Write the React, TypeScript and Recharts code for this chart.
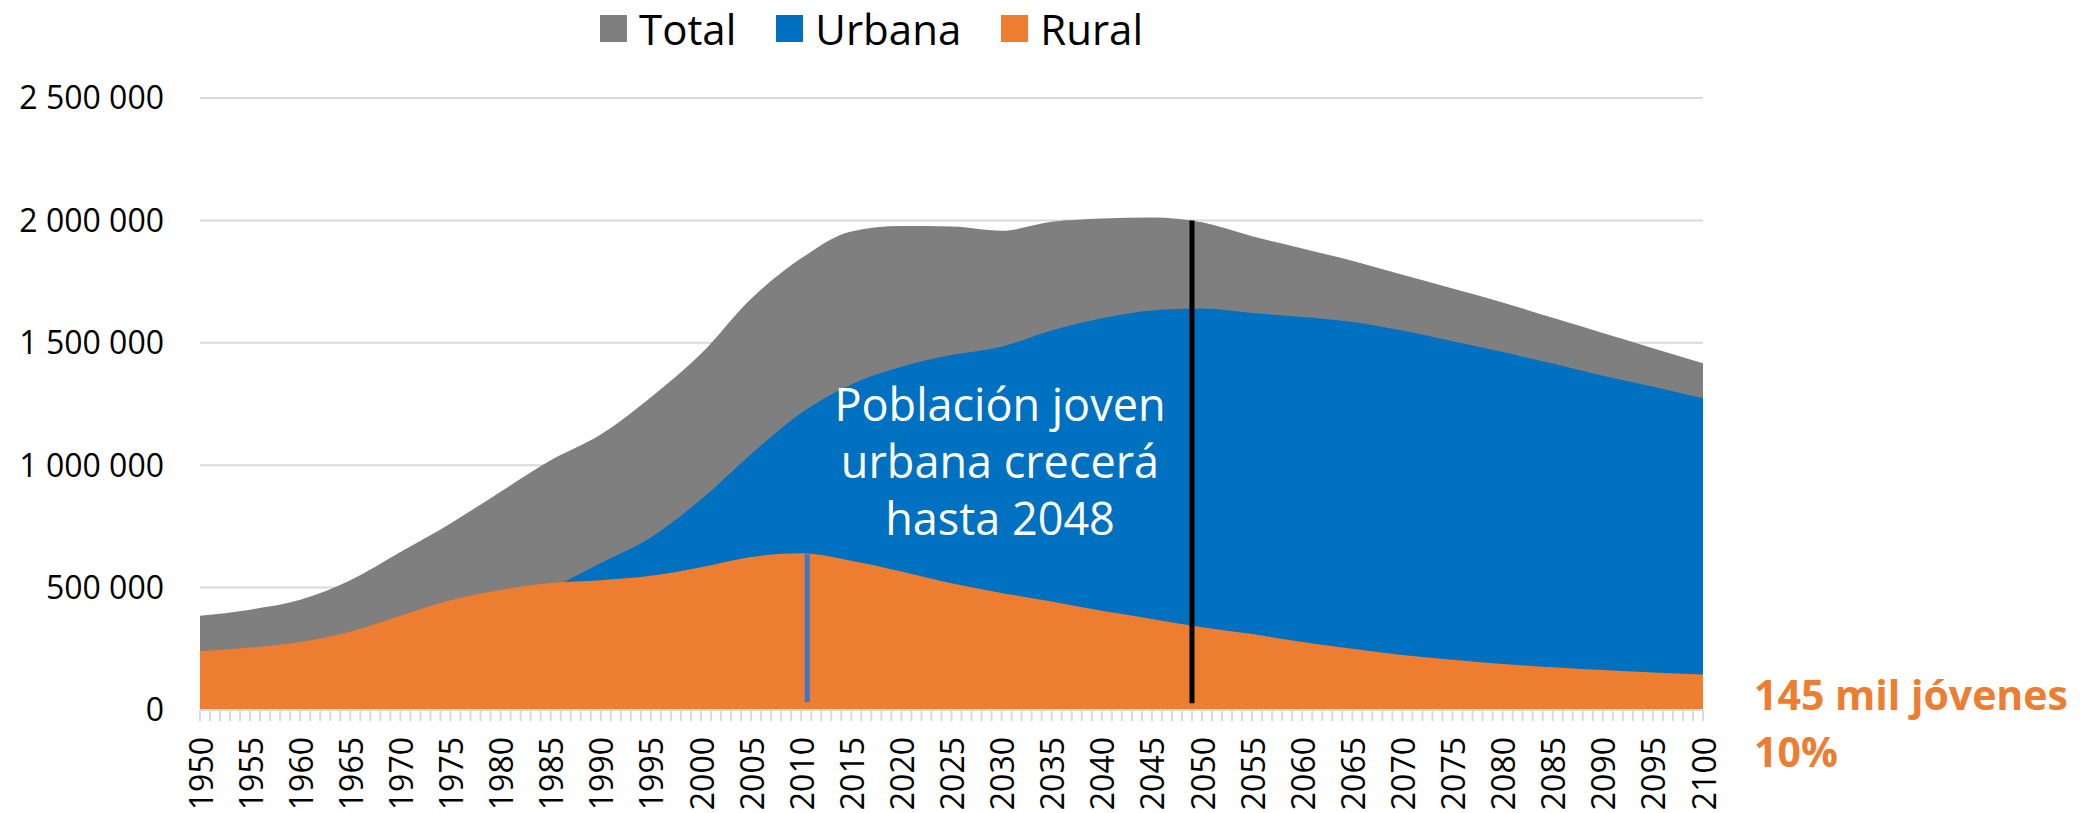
import { AreaChart, Area, XAxis, YAxis, CartesianGrid, Legend, ReferenceLine } from 'recharts';

const YEARS = [
  1950, 1955, 1960, 1965, 1970, 1975, 1980, 1985, 1990, 1995, 2000,
  2005, 2010, 2015, 2020, 2025, 2030, 2035, 2040, 2045, 2050,
  2055, 2060, 2065, 2070, 2075, 2080, 2085, 2090, 2095, 2100,
];

// youth population
const TOTAL = [
  385000, 410000, 450000, 530000, 645000, 762000, 892000, 1020000, 1125000, 1278000, 1455000,
  1680000, 1845000, 1955000, 1977000, 1975000, 1958000, 1994000, 2008000, 2012000, 1992000,
  1935000, 1885000, 1835000, 1778000, 1722000, 1665000, 1602000, 1540000, 1478000, 1416000,
];
const URBANA = [
  145000, 155000, 172000, 210000, 260000, 314000, 402000, 495000, 600000, 705000, 860000,
  1045000, 1213000, 1330000, 1402000, 1450000, 1484000, 1550000, 1600000, 1632000, 1640000,
  1622000, 1605000, 1585000, 1550000, 1506000, 1462000, 1415000, 1365000, 1320000, 1273000,
];
const RURAL = [
  240000, 255000, 278000, 320000, 385000, 448000, 490000, 519000, 530000, 548000, 583000,
  625000, 640000, 610000, 566000, 518000, 478000, 443000, 405000, 372000, 338000,
  310000, 278000, 250000, 225000, 205000, 188000, 175000, 163000, 153000, 145000,
];

const Y_TICKS = [0, 500000, 1000000, 1500000, 2000000, 2500000];

const SERIES = [
  { key: 'total', name: 'Total', color: '#7F7F7F' },
  { key: 'urbana', name: 'Urbana', color: '#0070C0' },
  { key: 'rural', name: 'Rural', color: '#ED7D31' },
];

const RURAL_PEAK_YEAR = 2010.6;
const URBAN_PEAK_YEAR = 2049;

const FONT = '"Open Sans", sans-serif';

const data = YEARS.map((year, i) => ({
  year,
  total: TOTAL[i],
  urbana: URBANA[i],
  rural: RURAL[i],
}));

// one small tick per year, labels every 5 years
const yearTicks = Array.from({ length: 2100 - 1950 + 1 }, (_, i) => 1950 + i);

const fmt = (n: number) => String(n).replace(/\B(?=(\d{3})+(?!\d))/g, ' ');

function YearTick({ x, y, payload }: any) {
  if (payload.value % 5 !== 0) return <g />;
  return (
    <text
      x={x}
      y={y}
      transform={`rotate(-90, ${x}, ${y})`}
      textAnchor="end"
      dominantBaseline="central"
      fontFamily={FONT}
      fontSize={32}
      fill="#000"
    >
      {payload.value}
    </text>
  );
}

function LegendContent() {
  return (
    <div
      style={{
        paddingLeft: 600,
        height: 57,
        display: 'flex',
        alignItems: 'center',
        gap: 40,
        fontFamily: FONT,
        fontSize: 42,
        color: '#000',
        whiteSpace: 'nowrap',
      }}
    >
      {SERIES.map((s) => (
        <div key={s.key} style={{ display: 'flex', alignItems: 'center' }}>
          <span style={{ width: 27, height: 27, background: s.color, marginRight: 12, display: 'inline-block' }} />
          <span>{s.name}</span>
        </div>
      ))}
    </div>
  );
}

export default function App() {
  return (
    <div style={{ position: 'absolute', left: 0, top: 0, width: 2084, height: 813, background: '#fff' }}>
      <AreaChart
        width={2084}
        height={813}
        data={data}
        margin={{ top: 41, right: 381, bottom: 0, left: 0 }}
      >
        <CartesianGrid vertical={false} stroke="#d9d9d9" strokeWidth={2} />
        <XAxis
          dataKey="year"
          type="number"
          domain={[1950, 2100]}
          ticks={yearTicks}
          interval={0}
          height={103}
          tick={<YearTick />}
          tickSize={11}
          tickMargin={16}
          tickLine={{ stroke: '#d9d9d9', strokeWidth: 2 }}
          axisLine={{ stroke: '#d9d9d9', strokeWidth: 2 }}
        />
        <YAxis
          width={200}
          domain={[0, 2500000]}
          ticks={Y_TICKS}
          tickFormatter={fmt}
          tickLine={false}
          axisLine={false}
          tickSize={0}
          tickMargin={36}
          tick={{ fontFamily: FONT, fontSize: 32, fill: '#000' }}
        />
        <Legend
          verticalAlign="top"
          content={<LegendContent />}
          wrapperStyle={{ left: 0, top: 0, width: 2084, height: 57 }}
        />
        {SERIES.map((s) => (
          <Area
            key={s.key}
            type="monotone"
            dataKey={s.key}
            name={s.name}
            fill={s.color}
            fillOpacity={1}
            stroke="none"
            isAnimationActive={false}
          />
        ))}
        <ReferenceLine
          segment={[{ x: RURAL_PEAK_YEAR, y: 636000 }, { x: RURAL_PEAK_YEAR, y: 33000 }]}
          stroke="#4472C4"
          strokeWidth={5}
        />
        <ReferenceLine
          segment={[{ x: URBAN_PEAK_YEAR, y: 2000000 }, { x: URBAN_PEAK_YEAR, y: 28000 }]}
          stroke="#000"
          strokeWidth={5}
        />
      </AreaChart>
      <svg width={2084} height={813} style={{ position: 'absolute', left: 0, top: 0, pointerEvents: 'none' }}>
        <g fontFamily={FONT} fontSize={45} fill="#fff" textAnchor="middle">
          <text x={1000} y={421}>Población joven</text>
          <text x={1000} y={478}>urbana crecerá</text>
          <text x={1000} y={535}>hasta 2048</text>
        </g>
        <g fontFamily={FONT} fontSize={41} fontWeight="bold" fill="#ED7D31">
          <text x={1754} y={710}>145 mil jóvenes</text>
          <text x={1754} y={767}>10%</text>
        </g>
      </svg>
    </div>
  );
}
